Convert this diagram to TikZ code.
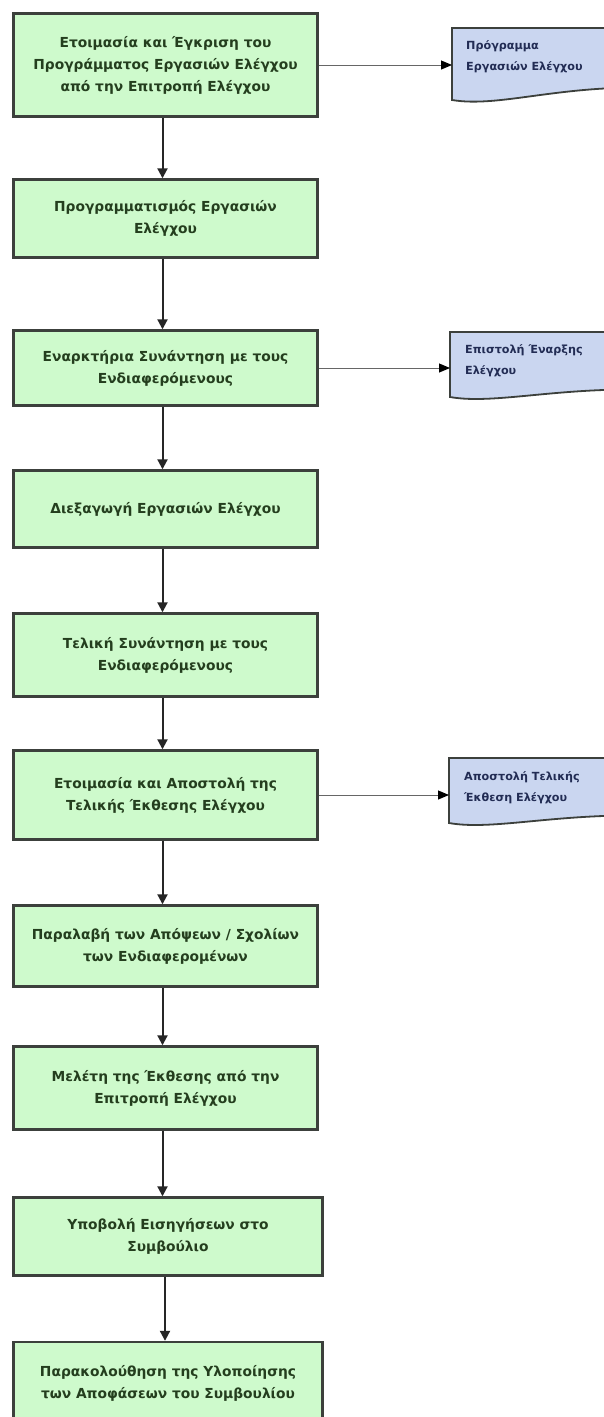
\documentclass[tikz,border=0pt]{standalone}
\usepackage{fontspec}
\setmainfont{DejaVu Sans}
\usetikzlibrary{arrows.meta}
\definecolor{boxfill}{RGB}{206,250,204}
\definecolor{boxline}{RGB}{60,64,60}
\definecolor{boxtext}{RGB}{36,62,30}
\definecolor{docfill}{RGB}{202,214,240}
\definecolor{doctext}{RGB}{34,44,84}
\begin{document}
\begin{tikzpicture}[x=1pt,y=-1pt,
  stepbox/.style={draw=boxline, line width=2.4pt, fill=boxfill, text=boxtext,
    font=\bfseries\fontsize{13.8}{22}\selectfont, align=center, inner sep=0pt},
  varrow/.style={draw=black!85, line width=2pt, -{Triangle[length=10pt,width=10pt]}},
  harrow/.style={draw=black!60, line width=1pt, -{Triangle[length=11pt,width=9pt,color=black]}},
  docshape/.style={draw=boxline, line width=1.8pt, fill=docfill},
  doctxt/.style={anchor=north west, align=left, text=doctext,
    font=\bfseries\fontsize{11.2}{21.5}\selectfont, inner sep=0pt}]
\useasboundingbox (0,0) rectangle (604,1417);
\fill[white] (0,0) rectangle (604,1417);
\clip (0,0) rectangle (604,1417);

% main steps
\node[stepbox, minimum width=304pt, minimum height=103pt] (b1) at (165.5,65) {Ετοιμασία και Έγκριση του\\Προγράμματος Εργασιών Ελέγχου\\από την Επιτροπή Ελέγχου};
\node[stepbox, minimum width=304pt, minimum height=78pt] (b2) at (165.5,218.5) {Προγραμματισμός Εργασιών\\Ελέγχου};
\node[stepbox, minimum width=304pt, minimum height=75pt] (b3) at (165.5,368) {Εναρκτήρια Συνάντηση με τους\\Ενδιαφερόμενους};
\node[stepbox, minimum width=304pt, minimum height=77pt] (b4) at (165.5,509) {Διεξαγωγή Εργασιών Ελέγχου};
\node[stepbox, minimum width=304pt, minimum height=83pt] (b5) at (165.5,655) {Τελική Συνάντηση με τους\\Ενδιαφερόμενους};
\node[stepbox, minimum width=304pt, minimum height=89pt] (b6) at (165.5,795) {Ετοιμασία και Αποστολή της\\Τελικής Έκθεσης Ελέγχου};
\node[stepbox, minimum width=304pt, minimum height=81pt] (b7) at (165.5,946) {Παραλαβή των Απόψεων / Σχολίων\\των Ενδιαφερομένων};
\node[stepbox, minimum width=304pt, minimum height=83pt] (b8) at (165.5,1088) {Μελέτη της Έκθεσης από την\\Επιτροπή Ελέγχου};
\node[stepbox, minimum width=309pt, minimum height=78pt] (b9) at (168,1236.5) {Υποβολή Εισηγήσεων στο\\Συμβούλιο};
\node[stepbox, minimum width=309pt, minimum height=83pt] (b10) at (168,1383.5) {Παρακολούθηση της Υλοποίησης\\των Αποφάσεων του Συμβουλίου};

% vertical connectors
\foreach \a/\b in {b1/b2,b2/b3,b3/b4,b4/b5,b5/b6,b6/b7,b7/b8,b8/b9,b9/b10}
  \draw[varrow] ([xshift=-3pt]\a.south) -- ([xshift=-3pt]\a.south |- \b.north);

% documents
\draw[docshape] (452,28) -- (660,28) -- (660,88) .. controls (560,84) and (500,108) .. (452,100) -- cycle;
\coordinate (d1) at (452,65);
\node[doctxt] (d1t) at (466,40) {Πρόγραμμα\\Εργασιών Ελέγχου};

\draw[docshape] (450,332) -- (660,332) -- (660,390) .. controls (560,386) and (495,405) .. (450,397) -- cycle;
\coordinate (d2) at (450,368);
\node[doctxt] (d2t) at (465,344) {Επιστολή Έναρξης\\Ελέγχου};

\draw[docshape] (449,758) -- (660,758) -- (660,816) .. controls (560,812) and (494,831) .. (449,823) -- cycle;
\coordinate (d3) at (449,795);
\node[doctxt] (d3t) at (464,771) {Αποστολή Τελικής\\Έκθεση Ελέγχου};

% horizontal connectors
\draw[harrow] (b1.east) -- (d1);
\draw[harrow] (b3.east) -- (d2);
\draw[harrow] (b6.east) -- (d3);
\end{tikzpicture}
\end{document}
